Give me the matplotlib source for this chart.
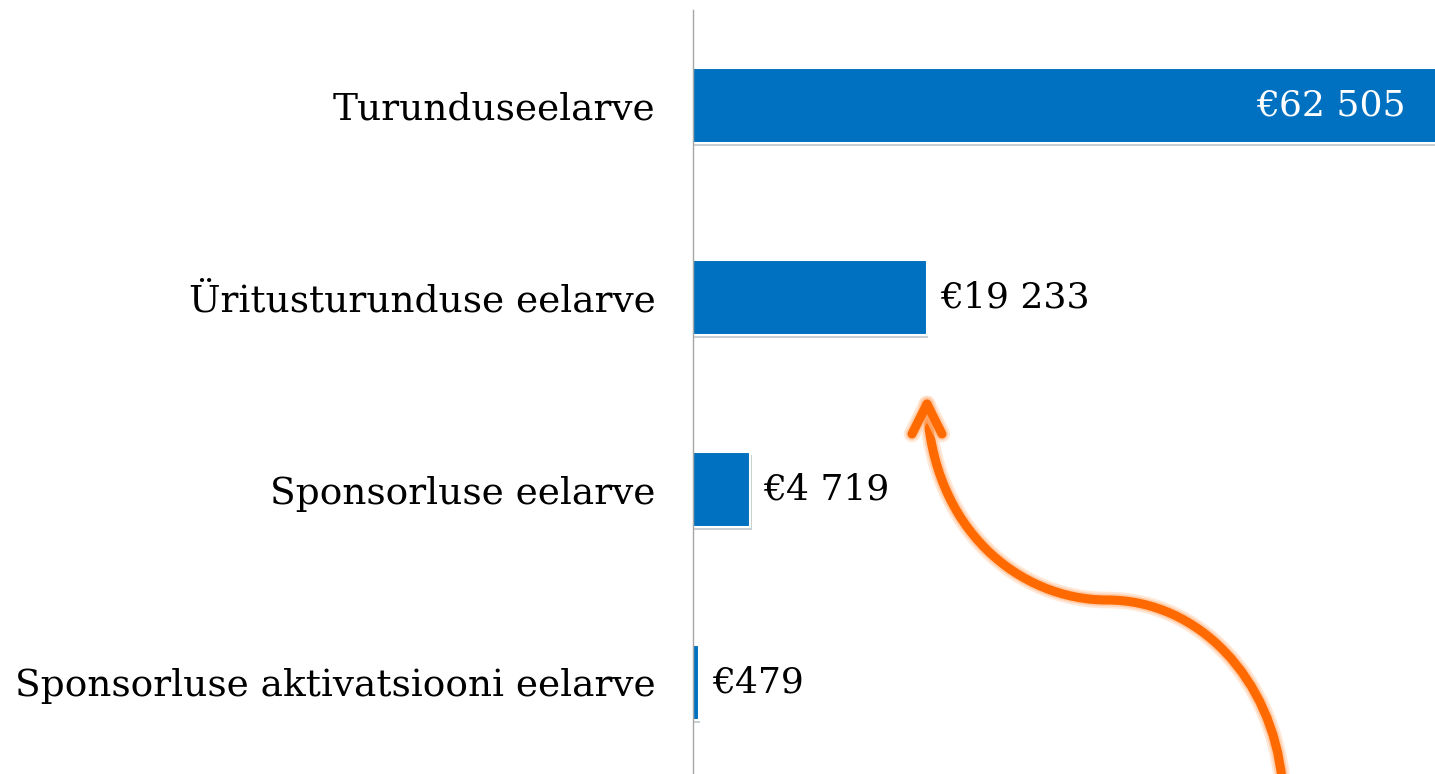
import matplotlib
matplotlib.use("Agg")
import matplotlib.pyplot as plt
import matplotlib.patheffects as pe
from matplotlib.path import Path
from matplotlib.patches import PathPatch

categories = ["Turunduseelarve", "Üritusturunduse eelarve", "Sponsorluse eelarve",
              "Sponsorluse aktivatsiooni eelarve"]
values = [62505, 19233, 4719, 479]

W, H = 1435, 774
BLUE = "#0070C0"
ORANGE = "#FF6A00"

plt.rcParams['font.family'] = ['DejaVu Serif']

fig = plt.figure(figsize=(W / 100, H / 100), dpi=100)
# axes runs past the right edge so the first bar is cut off like in the original
ax = fig.add_axes([693 / W, 0, 791 / W, 764 / H])
ax.set_xlim(0, 65000)
ax.set_ylim(3.478, -0.496)

bars = ax.barh(range(len(values)), values, height=0.39, color=BLUE,
               edgecolor="white", linewidth=1.5)
for b in bars:
    b.set_path_effects([pe.SimplePatchShadow(offset=(0.8, -2.2), alpha=0.22), pe.Normal()])

for i, v in enumerate(values):
    txt = "€" + f"{v:,}".replace(",", " ")
    if i == 0:
        ax.annotate(txt, (v, i), xytext=(-48 * 0.72, 0), textcoords="offset points",
                    ha="right", va="center", color="white", fontsize=26)
    else:
        ax.annotate(txt, (v, i), xytext=(13 * 0.72, 0), textcoords="offset points",
                    ha="left", va="center", color="black", fontsize=26)

ax.set_yticks(range(len(categories)))
ax.set_yticklabels(categories, fontsize=27)
ax.tick_params(axis="y", length=0, pad=27)
ax.set_xticks([])
for s in ["top", "right", "bottom"]:
    ax.spines[s].set_visible(False)
ax.spines["left"].set_color("#a6a6a6")
ax.spines["left"].set_linewidth(1)
ax.spines["left"].set_bounds(-0.496, 3.6)


def fp(x, y):
    return (x / W, 1 - y / H)


# curved orange arrow
verts = [fp(927, 404), fp(932, 530), fp(1020, 600), fp(1107, 600),
         fp(1200, 600), fp(1272, 680), fp(1282, 780)]
codes = [Path.MOVETO, Path.CURVE4, Path.CURVE4, Path.CURVE4,
         Path.CURVE4, Path.CURVE4, Path.CURVE4]
head = [fp(912, 434), fp(927, 404), fp(942, 434)]
glow = [pe.Stroke(linewidth=12, foreground="#FFD2B0", alpha=0.5),
        pe.Stroke(linewidth=9, foreground="#FFB380", alpha=0.5), pe.Normal()]
curve = PathPatch(Path(verts, codes), transform=fig.transFigure, fill=False,
                  edgecolor=ORANGE, linewidth=6.5, capstyle="round", path_effects=glow)
fig.add_artist(curve)
hp = PathPatch(Path(head, [Path.MOVETO, Path.LINETO, Path.LINETO]), transform=fig.transFigure,
               fill=False, edgecolor=ORANGE, linewidth=6.5, capstyle="round",
               joinstyle="round", path_effects=glow)
fig.add_artist(hp)

fig.savefig("out.png", dpi=100, facecolor="white")
